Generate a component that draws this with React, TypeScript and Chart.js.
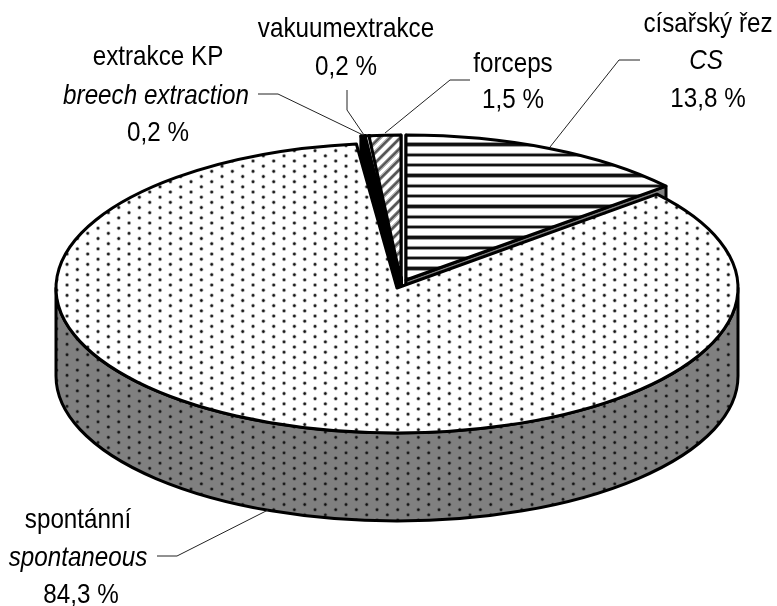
import React, { useEffect, useRef } from "react";
import { Chart, registerables } from "chart.js";

Chart.register(...registerables);

const categories = ["císařský řez", "spontánní", "extrakce KP", "vakuumextrakce", "forceps"];
const shares = [13.8, 84.3, 0.2, 0.2, 1.5];
const explodeX = [9, 0, 4.5, 4.5, 4];
const explodeY = [-8, 0, -8, -8, -8];

const labelLines: [string, number, number, boolean][] = [
  ["císařský řez", 708, 32, false],
  ["CS", 706, 69, true],
  ["13,8 %", 708, 107, false],
  ["forceps", 513, 72, false],
  ["1,5 %", 513, 108, false],
  ["vakuumextrakce", 346, 37, false],
  ["0,2 %", 346, 75, false],
  ["extrakce KP", 158, 65, false],
  ["breech extraction", 156, 104, true],
  ["0,2 %", 158, 141, false],
  ["spontánní", 78, 528, false],
  ["spontaneous", 78, 566, true],
  ["84,3 %", 81, 603, false],
];

const leaders: [number, number][][] = [
  [[157, 556], [177, 556], [268, 510]],
  [[258, 94], [278, 94], [363, 135]],
  [[347, 90], [347, 110], [364, 135]],
  [[470, 80], [450, 80], [385, 133]],
  [[640, 60], [619, 60], [550, 147]],
];

const CX = 397;
const CY = 288;
const RX = 341;
const RY = 145;
const DEPTH = 88;
const CELL = 31; // 3x of a 10.33px cell

function tile(w: number, h: number, draw: (c: CanvasRenderingContext2D) => void) {
  const cv = document.createElement("canvas");
  cv.width = w;
  cv.height = h;
  const c = cv.getContext("2d")!;
  draw(c);
  return c.createPattern(cv, "repeat")!;
}

function dots(bg: string) {
  const w = CELL * 2;
  const h = CELL;
  return tile(w, h, (c) => {
    c.fillStyle = bg;
    c.fillRect(0, 0, w, h);
    const dot = (x: number, y: number) => {
      for (const [ox, oy] of [[0, 0], [w, 0], [0, h], [w, h]]) {
        const g = c.createRadialGradient(x + ox, y + oy, 0, x + ox, y + oy, 7.5);
        g.addColorStop(0, "rgba(10,10,10,1)");
        g.addColorStop(0.4, "rgba(25,25,25,0.9)");
        g.addColorStop(0.7, "rgba(60,60,60,0.3)");
        g.addColorStop(1, "rgba(60,60,60,0)");
        c.fillStyle = g;
        c.fillRect(x + ox - 8, y + oy - 8, 16, 16);
      }
    };
    dot(0, 0);
    dot(CELL, CELL / 2);
  });
}

function hLines() {
  return tile(CELL, CELL, (c) => {
    c.fillStyle = "#fff";
    c.fillRect(0, 0, CELL, CELL);
    c.fillStyle = "#999";
    c.fillRect(0, 9, CELL, 13);
    c.fillStyle = "#111";
    c.fillRect(0, 12, CELL, 7);
  });
}

function diagonal() {
  return tile(CELL, CELL, (c) => {
    c.fillStyle = "#fff";
    c.fillRect(0, 0, CELL, CELL);
    c.lineCap = "square";
    for (const [col, w] of [["#aaa", 12], ["#555", 6]] as [string, number][]) {
      c.strokeStyle = col;
      c.lineWidth = w;
      for (const o of [-CELL, 0, CELL]) {
        c.beginPath();
        c.moveTo(o, CELL);
        c.lineTo(o + CELL, 0);
        c.stroke();
      }
    }
  });
}

export default function App() {
  const ref = useRef<HTMLCanvasElement>(null);

  useEffect(() => {
    const topDots = dots("#ffffff");
    const wallDots = dots("#808080");
    const cs = hLines();
    const diag = diagonal();
    const phases: [CanvasPattern, number, number][] = [
      [topDots, 211.7, 254],
      [wallDots, 211.7, 458],
      [cs, 0, 139.3],
      [diag, 0, 135],
    ];
    const fills: (CanvasPattern | string)[] = [cs, topDots, "#000000", "#ffffff", diag];

    const lock = (ctx: CanvasRenderingContext2D) => {
      const inv = ctx.getTransform().inverse();
      for (const [p, px, py] of phases) {
        p.setTransform(inv.translate(px, py).scale(1 / 3));
      }
    };

    const pie3d = {
      id: "pie3d",
      beforeDatasetsDraw(chart: any) {
        const ctx: CanvasRenderingContext2D = chart.ctx;
        const arcs = chart.getDatasetMeta(0).data;
        const props = arcs.map((a: any) =>
          a.getProps(["x", "y", "startAngle", "endAngle", "outerRadius"], true),
        );
        ctx.save();
        ctx.lineWidth = 3;
        ctx.strokeStyle = "#000";
        ctx.lineJoin = "round";

        // side walls, behind every top
        arcs.forEach((_: any, i: number) => {
          const p = props[i];
          const x = CX + explodeX[i];
          const y = CY + explodeY[i];
          const a0 = Math.max(p.startAngle, 0);
          const a1 = Math.min(p.endAngle, Math.PI);
          lock(ctx);
          ctx.fillStyle = wallDots;
          if (a1 > a0) {
            ctx.beginPath();
            ctx.ellipse(x, y, RX, RY, 0, a0, a1);
            ctx.ellipse(x, y + DEPTH, RX, RY, 0, a1, a0, true);
            ctx.closePath();
            ctx.fill();
            ctx.stroke();
          }
          if (explodeX[i] !== 0 || explodeY[i] !== 0) {
            // narrow walls of the small slices read as solid black
            ctx.fillStyle = i === 0 ? "#808080" : "#000000";
            for (const a of [p.startAngle, p.endAngle]) {
              const rx = x + RX * Math.cos(a);
              const ry = y + RY * Math.sin(a);
              ctx.beginPath();
              ctx.moveTo(x, y);
              ctx.lineTo(rx, ry);
              ctx.lineTo(rx, ry + DEPTH);
              ctx.lineTo(x, y + DEPTH);
              ctx.closePath();
              ctx.fill();
              ctx.stroke();
            }
          }
        });

        // tops: the library's arcs, squeezed into an ellipse
        const order = [1, 0, 2, 3, 4];
        for (const i of order) {
          const a = arcs[i];
          const p = props[i];
          const x = CX + explodeX[i];
          const y = CY + explodeY[i];
          ctx.save();
          ctx.translate(x, y);
          ctx.scale(RX / p.outerRadius, RY / p.outerRadius);
          ctx.translate(-p.x, -p.y);
          lock(ctx);
          a.draw(ctx);
          ctx.restore();
          ctx.beginPath();
          ctx.moveTo(x, y);
          ctx.ellipse(x, y, RX, RY, 0, p.startAngle, p.endAngle);
          ctx.closePath();
          ctx.stroke();
        }
        ctx.restore();
        return false;
      },
      afterDraw(chart: any) {
        const ctx: CanvasRenderingContext2D = chart.ctx;
        ctx.save();
        ctx.strokeStyle = "#222";
        ctx.lineWidth = 1;
        for (const l of leaders) {
          ctx.beginPath();
          l.forEach(([x, y], k) => (k ? ctx.lineTo(x, y) : ctx.moveTo(x, y)));
          ctx.stroke();
        }
        ctx.fillStyle = "#000";
        ctx.textAlign = "center";
        ctx.textBaseline = "alphabetic";
        for (const [t, x, y, it] of labelLines) {
          ctx.save();
          ctx.font = `${it ? "italic " : ""}28.5px "Liberation Sans", Arial, sans-serif`;
          ctx.translate(x, y);
          ctx.scale(0.85, 1);
          ctx.fillText(t, 0, 0);
          ctx.restore();
        }
        ctx.restore();
      },
    };

    const chart = new Chart(ref.current!, {
      type: "pie",
      data: {
        labels: categories,
        datasets: [{ data: shares, backgroundColor: fills as any, borderWidth: 0 }],
      },
      options: {
        responsive: false,
        animation: false,
        layout: { padding: 0 },
        plugins: { legend: { display: false }, tooltip: { enabled: false } },
      },
      plugins: [pie3d as any],
    });
    return () => chart.destroy();
  }, []);

  return (
    <div style={{ position: "absolute", left: 0, top: 0, width: 777, height: 606, background: "#fff" }}>
      <canvas ref={ref} width={777} height={606} style={{ display: "block" }} />
    </div>
  );
}
